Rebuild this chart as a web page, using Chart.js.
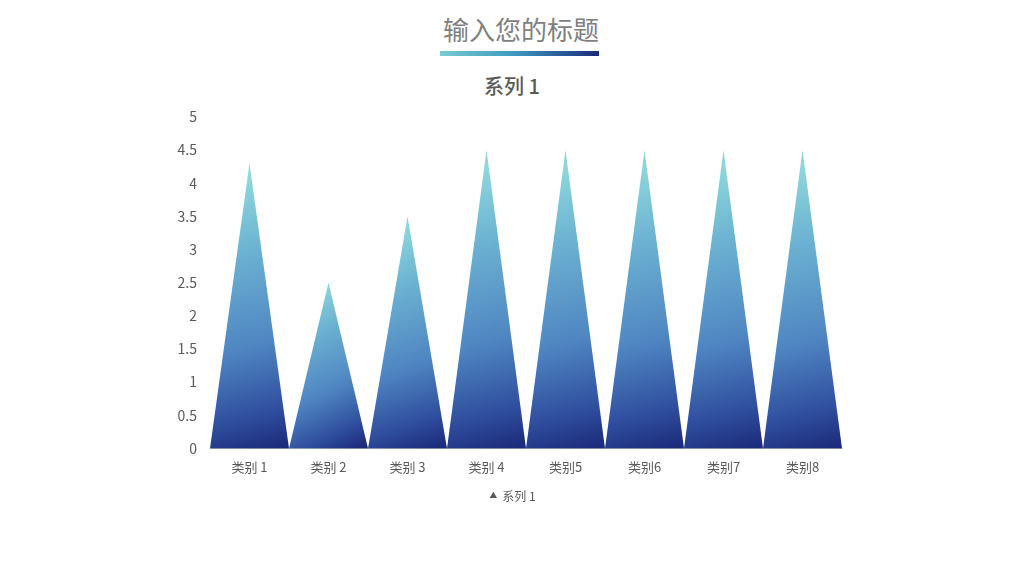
<!DOCTYPE html>
<html lang="zh">

<head>
    <meta charset="UTF-8">
    <title>输入您的标题</title>
    <script src="https://cdn.jsdelivr.net/npm/chart.js"></script>
    <style>
        body {
            margin: 0;
            width: 1024px;
            height: 576px;
            background: #ffffff;
            font-family: "Noto Sans CJK SC", "Noto Sans", sans-serif;
            position: relative;
            overflow: hidden;
        }

        #main-title {
            position: absolute;
            left: 0;
            width: 1024px;
            top: 9px;
            text-align: center;
            font-size: 26px;
            line-height: 40px;
            color: #7f7f7f;
            padding-left: 18px;
            box-sizing: border-box;
        }

        #title-bar {
            position: absolute;
            left: 440px;
            top: 51px;
            width: 159px;
            height: 5px;
            background: linear-gradient(to right, #79cbd0, #3f9cc0 45%, #1c2a7c);
        }

        #sub-title {
            position: absolute;
            left: 0;
            width: 1024px;
            top: 72px;
            text-align: center;
            font-size: 20px;
            line-height: 28px;
            font-weight: 500;
            color: #595959;
        }

        #chart-container {
            position: absolute;
            left: 0;
            top: 0;
            width: 1024px;
            height: 576px;
        }
    </style>
</head>

<body>
    <div id="main-title">输入您的标题</div>
    <div id="title-bar"></div>
    <div id="sub-title">系列 1</div>
    <div id="chart-container">
        <canvas id="coneChart"></canvas>
    </div>

    <script>
        // data
        var categories = ['类别 1', '类别 2', '类别 3', '类别 4', '类别5', '类别6', '类别7', '类别8'];
        var seriesName = '系列 1';
        var seriesValues = [4.3, 2.5, 3.5, 4.5, 4.5, 4.5, 4.5, 4.5];

        // draws each bar as a triangle, using the bar positions from the scales
        var trianglePlugin = {
            id: 'triangles',
            afterDatasetsDraw: function (chart) {
                var ctx = chart.ctx;
                var meta = chart.getDatasetMeta(0);
                meta.data.forEach(function (bar) {
                    var p = bar.getProps(['x', 'y', 'base', 'width'], true);
                    var half = p.width / 2;
                    var grad = ctx.createLinearGradient(p.x - half, p.y + (p.base - p.y) * 0.1, p.x + half * 0.8, p.base);
                    grad.addColorStop(0, '#8cd6dc');
                    grad.addColorStop(0.25, '#6cb2d2');
                    grad.addColorStop(0.6, '#4f86c2');
                    grad.addColorStop(0.85, '#304f9f');
                    grad.addColorStop(1, '#1c2a7a');
                    ctx.save();
                    ctx.beginPath();
                    ctx.moveTo(p.x - half, p.base);
                    ctx.lineTo(p.x, p.y);
                    ctx.lineTo(p.x + half, p.base);
                    ctx.closePath();
                    ctx.fillStyle = grad;
                    ctx.fill();
                    ctx.restore();
                });
            }
        };

        var ctx = document.getElementById('coneChart').getContext('2d');
        var coneChart = new Chart(ctx, {
            type: 'bar',
            data: {
                labels: categories,
                datasets: [{
                    label: seriesName,
                    data: seriesValues,
                    backgroundColor: 'rgba(0,0,0,0)',
                    borderWidth: 0,
                    barPercentage: 1,
                    categoryPercentage: 1,
                    pointStyle: 'triangle'
                }]
            },
            options: {
                responsive: true,
                maintainAspectRatio: false,
                animation: false,
                layout: {
                    padding: { left: 174, right: 172, top: 117, bottom: 64 }
                },
                plugins: {
                    title: { display: false },
                    legend: {
                        position: 'bottom',
                        labels: {
                            usePointStyle: true,
                            boxWidth: 6,
                            boxHeight: 6,
                            color: '#595959',
                            font: { family: '"Noto Sans CJK SC"', size: 12 },
                            padding: 4,
                            generateLabels: function () {
                                return [{
                                    text: seriesName,
                                    fillStyle: '#595959',
                                    strokeStyle: '#595959',
                                    lineWidth: 0,
                                    pointStyle: 'triangle',
                                    fontColor: '#595959',
                                    datasetIndex: 0
                                }];
                            }
                        }
                    },
                    tooltip: { enabled: false }
                },
                scales: {
                    x: {
                        grid: { display: false, drawTicks: false },
                        border: { display: true, color: '#e3e3e3' },
                        ticks: {
                            color: '#595959',
                            font: { family: '"Noto Sans CJK SC"', size: 13 },
                            padding: 11
                        }
                    },
                    y: {
                        min: 0,
                        max: 5,
                        grid: { display: false, drawTicks: false },
                        border: { display: false },
                        afterFit: function (axis) {
                            axis.width = 36;
                        },
                        ticks: {
                            stepSize: 0.5,
                            color: '#595959',
                            font: { family: '"Noto Sans CJK SC"', size: 14 },
                            padding: 13,
                            callback: function (value) {
                                return String(Number(value));
                            }
                        }
                    },
                    // empty spacer on the right so the legend sits centred like the original
                    yRight: {
                        position: 'right',
                        grid: { display: false, drawTicks: false },
                        border: { display: false },
                        ticks: { display: false },
                        afterFit: function (axis) {
                            axis.width = 10;
                        }
                    }
                }
            },
            plugins: [trianglePlugin]
        });
    </script>
</body>

</html>
